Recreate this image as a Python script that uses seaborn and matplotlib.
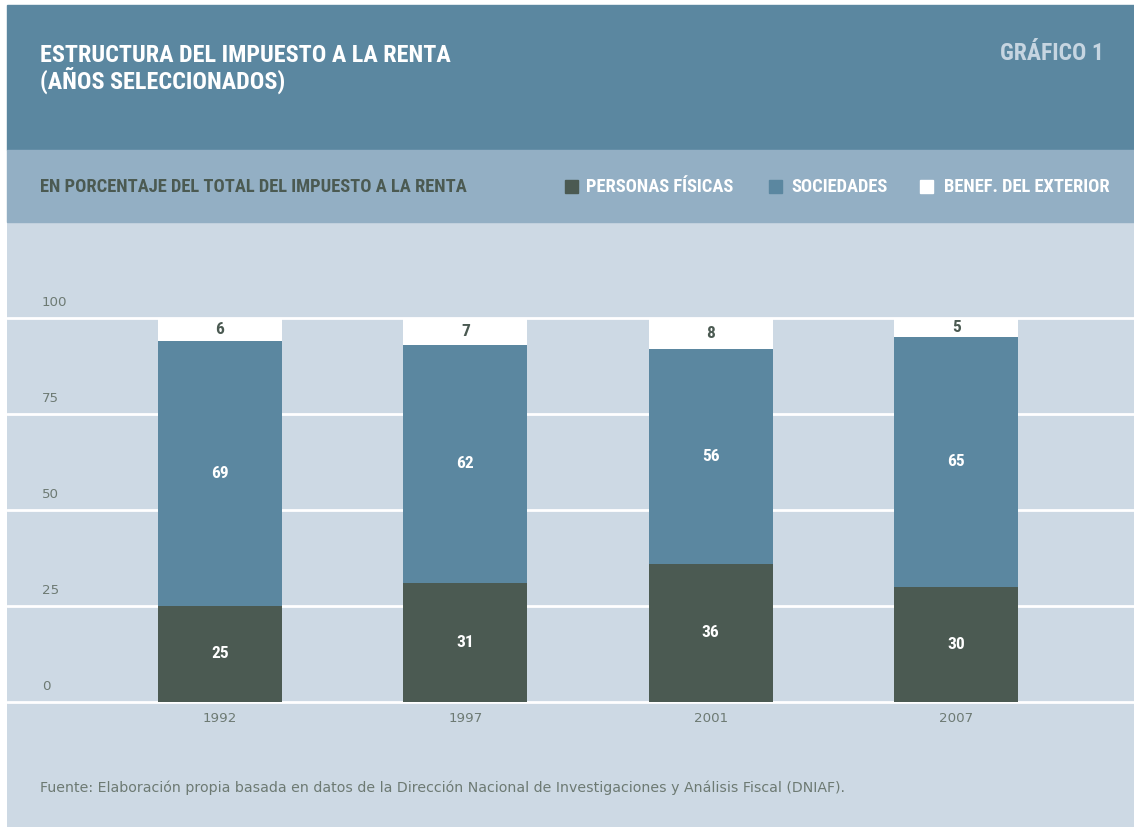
import matplotlib
matplotlib.use("Agg")
import matplotlib.pyplot as plt
import matplotlib.patches as mpatches
import matplotlib.transforms as mtransforms
import seaborn as sns
import pandas as pd

# Data: share of total income tax (%)
years = ["1992", "1997", "2001", "2007"]
personas_fisicas = [25, 31, 36, 30]
sociedades = [69, 62, 56, 65]
benef_exterior = [6, 7, 8, 5]
series_names = ["PERSONAS FÍSICAS", "SOCIEDADES", "BENEF. DEL EXTERIOR"]
y_ticks = [0, 25, 50, 75, 100]

title_lines = "ESTRUCTURA DEL IMPUESTO A LA RENTA\n(AÑOS SELECCIONADOS)"
chart_tag = "GRÁFICO 1"
subtitle = "EN PORCENTAJE DEL TOTAL DEL IMPUESTO A LA RENTA"
source = ("Fuente: Elaboración propia basada en datos de la Dirección Nacional "
          "de Investigaciones y Análisis Fiscal (DNIAF).")

# Palette
C_HEADER = "#5b87a0"
C_BAND = "#93afc4"
C_PLOT = "#cdd9e4"
C_DARK = "#4b5a52"
C_BLUE = "#5b87a0"
C_WHITE = "#ffffff"
C_TAG = "#c6d5e1"
C_TICK = "#6d7a73"

sns.set_theme(style="white")
COND = ["Roboto Condensed", "DejaVu Sans"]
REG = ["DejaVu Sans"]
plt.rcParams["font.family"] = COND

W, H = 1134, 827
fig = plt.figure(figsize=(W / 100, H / 100), dpi=100, facecolor="white")


def fy(px):
    return 1 - px / H


def fx(px):
    return px / W


# Background bands
fig.patches.append(mpatches.Rectangle((fx(7), fy(150)), 1 - fx(7), fy(5) - fy(150),
                                      transform=fig.transFigure, color=C_HEADER, zorder=0))
fig.patches.append(mpatches.Rectangle((fx(7), fy(222)), 1 - fx(7), fy(150) - fy(222),
                                      transform=fig.transFigure, color=C_BAND, zorder=0))

# Header texts
fig.text(fx(40), fy(69), title_lines, color="white", fontsize=17.4, fontweight="bold",
         ha="left", va="center", linespacing=1.0)
fig.text(fx(1104), fy(54), chart_tag, color=C_TAG, fontsize=17, fontweight="bold",
         ha="right", va="center")
fig.text(fx(40), fy(187), subtitle, color=C_DARK, fontsize=13.3, fontweight="bold",
         ha="left", va="center")

# Legend in the subtitle band
legend_items = [(565, 586, C_DARK), (769, 791, C_BLUE), (920, 944, C_WHITE)]
for (sx, tx, col), name in zip(legend_items, series_names):
    fig.patches.append(mpatches.Rectangle((fx(sx), fy(193)), fx(13), fy(180) - fy(193),
                                          transform=fig.transFigure, color=col, zorder=2))
    fig.text(fx(tx), fy(187), name, color="white", fontsize=13.3, fontweight="bold",
             ha="left", va="center")

# Plot area
px_per_unit = 3.84
y_top = (702 - 222) / px_per_unit
y_bot = -(827 - 702) / px_per_unit
ax = fig.add_axes([fx(7), 0, 1 - fx(7), fy(222)])
ax.set_facecolor(C_PLOT)

df = pd.DataFrame({"year": years, "pf": personas_fisicas, "soc": sociedades, "ext": benef_exterior})
bottoms_soc = df["pf"]
bottoms_ext = df["pf"] + df["soc"]

bw = 0.505
sns.barplot(data=df, x="year", y="pf", color=C_DARK, width=bw, ax=ax,
            saturation=1, linewidth=0, zorder=3)
sns.barplot(data=df, x="year", y="soc", bottom=bottoms_soc, color=C_BLUE, width=bw, ax=ax,
            saturation=1, linewidth=0, zorder=3)
sns.barplot(data=df, x="year", y="ext", bottom=bottoms_ext, color=C_WHITE, width=bw, ax=ax,
            saturation=1, linewidth=0, zorder=3)

label_colors = ["white", "white", C_DARK]
for cont, lc in zip(ax.containers, label_colors):
    ax.bar_label(cont, labels=[f"{v:.0f}" for v in cont.datavalues], label_type="center",
                 color=lc, fontsize=12.5, fontweight="bold", zorder=5)

# Gridlines behind bars, tick values sitting above each line
ytick_tr = mtransforms.blended_transform_factory(fig.transFigure, ax.transData)
for t in y_ticks:
    ax.axhline(t, color="white", lw=2, zorder=1)
    ax.text(fx(42), t + 16 / px_per_unit, f"{t}", transform=ytick_tr,
            color=C_TICK, fontsize=9.6, family=REG, ha="left", va="center")

for i, yr in enumerate(years):
    ax.text(i, -(719 - 702) / px_per_unit, yr, color=C_TICK, fontsize=9.6, family=REG,
            ha="center", va="center")

ax.text(fx(40), -(788 - 702) / px_per_unit, source, transform=ytick_tr, color=C_TICK,
        fontsize=10.2, family=REG, ha="left", va="center")

ax.set_xlim(-0.868, 3.725)
ax.set_ylim(y_bot, y_top)
ax.set_xlabel("")
ax.set_ylabel("")
ax.set_xticks([])
ax.set_yticks([])
for s in ax.spines.values():
    s.set_visible(False)

fig.savefig("out.png", dpi=100, facecolor="white")
